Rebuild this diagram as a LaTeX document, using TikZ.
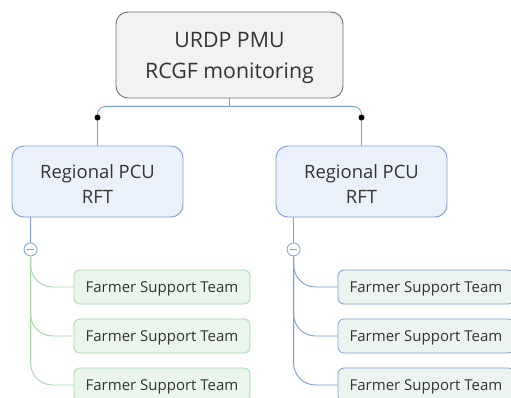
\documentclass[tikz,border=0pt]{standalone}
\usepackage{fontspec}
\setmainfont{Open Sans}
\usetikzlibrary{calc}
\begin{document}
\begin{tikzpicture}[x=1pt,y=-1pt,
  rootbox/.style={draw=rootline,fill=rootfill,rounded corners=12pt,line width=0.9pt,
    minimum width=227pt,minimum height=86pt,inner sep=0pt},
  roottext/.style={text=txt,align=center,inner sep=0pt,
    font=\fontsize{21.3}{30.5}\selectfont,yshift=-3pt},
  regbox/.style={draw=blueline,fill=regfill,rounded corners=12pt,line width=0.9pt,
    minimum width=171pt,minimum height=71pt,inner sep=0pt},
  regtext/.style={text=txt,align=center,inner sep=0pt,
    font=\fontsize{18.4}{25}\selectfont,yshift=-2.5pt},
  teambox/.style={rounded corners=6pt,line width=0.8pt,
    minimum width=176pt,minimum height=34pt,text=txt,
    text height=10.7pt,text depth=0pt,
    font=\fontsize{15}{17}\selectfont,inner sep=0pt},
  greenteam/.style={teambox,draw=greenline,fill=greenfill},
  blueteam/.style={teambox,draw=blueline,fill=bluegreenfill},
  bline/.style={draw=blueline,line width=0.9pt},
  gline/.style={draw=greenline,line width=0.9pt},
  toggle/.style={circle,draw=blueline,fill=white,line width=0.8pt,minimum size=13pt,inner sep=0pt},
  joint/.style={circle,fill=black,minimum size=6pt,inner sep=0pt}]
\definecolor{rootline}{HTML}{707070}
\definecolor{rootfill}{HTML}{F2F2F2}
\definecolor{blueline}{HTML}{7C9FCF}
\definecolor{regfill}{HTML}{EBF1FA}
\definecolor{greenline}{HTML}{A2D8AC}
\definecolor{greenfill}{HTML}{EAF5EC}
\definecolor{bluegreenfill}{HTML}{ECF4EF}
\definecolor{txt}{HTML}{333333}

\clip (0,0) rectangle (511,398);
\fill[white] (0,0) rectangle (511,398);

% central topic and its two regional branches
\node[rootbox,label={[roottext]center:URDP PMU\\RCGF monitoring}] (root) at (229.5,55) {};
\node[regbox,label={[regtext]center:Regional PCU\\RFT}] (regL) at (97.5,181.5) {};
\node[regbox,label={[regtext]center:Regional PCU\\RFT}] (regR) at (361.5,181.5) {};

\coordinate (fork) at ($(root.south)+(0,8)$);
\draw[bline] (root.south) -- (fork);
\draw[bline,rounded corners=8pt] (fork) -| (regL.north);
\draw[bline,rounded corners=8pt] (fork) -| (regR.north);
\node[joint] (dotL) at ($(regL.north)+(0,-28)$) {};
\node[joint] (dotR) at ($(regR.north)+(0,-28)$) {};

% collapse toggles under each regional node
\coordinate (outL) at ($(regL.south west)+(19,0)$);
\coordinate (outR) at ($(regR.south west)+(18,0)$);
\node[toggle] (togL) at ($(outL)+(0,32)$) {};
\node[toggle] (togR) at ($(outR)+(0,32)$) {};
\draw[bline] (outL) -- (togL.north);
\draw[bline] (outR) -- (togR.north);
\draw[blueline,line width=1pt] ($(togL.center)+(-3.4,0)$) -- ($(togL.center)+(3.4,0)$);
\draw[blueline,line width=1pt] ($(togR.center)+(-3.4,0)$) -- ($(togR.center)+(3.4,0)$);

% team nodes
\node[greenteam] (tL1) at (162,287) {Farmer Support Team};
\node[greenteam] (tL2) at (162,336) {Farmer Support Team};
\node[greenteam] (tL3) at (162,385) {Farmer Support Team};
\node[blueteam] (tR1) at (426,287) {Farmer Support Team};
\node[blueteam] (tR2) at (426,336) {Farmer Support Team};
\node[blueteam] (tR3) at (426,385) {Farmer Support Team};

\foreach \t in {tL1,tL2,tL3}
  \draw[gline,rounded corners=22pt] (togL.south) |- (\t.west);
\foreach \t in {tR1,tR2,tR3}
  \draw[bline,rounded corners=22pt] (togR.south) |- (\t.west);
\end{tikzpicture}
\end{document}
